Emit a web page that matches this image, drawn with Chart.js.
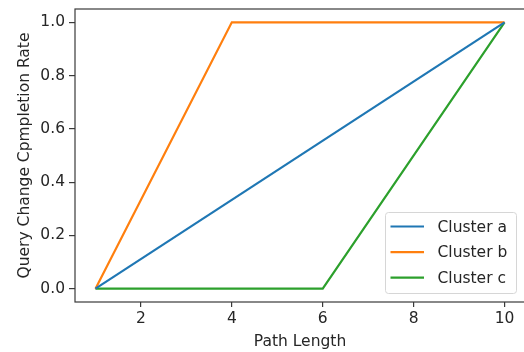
<!DOCTYPE html>
<html>
<head>
<meta charset="utf-8">
<script src="https://cdn.jsdelivr.net/npm/chart.js@4"></script>
<style>
  html, body { margin: 0; padding: 0; background: #fff; overflow: hidden; }
  #wrap { width: 530px; height: 352px; }
</style>
</head>
<body>
<div id="wrap"><canvas id="chart" width="530" height="352"></canvas></div>
<script>
// series (vertices only, lines have no markers)
const clusterNames = ['Cluster a', 'Cluster b', 'Cluster c'];
const clusterAX = [1, 10];
const clusterAY = [0, 1];
const clusterBX = [1, 4, 10];
const clusterBY = [0, 1, 1];
const clusterCX = [1, 6, 10];
const clusterCY = [0, 0, 1];
const xTicks = [2, 4, 6, 8, 10];
const yTicks = [0, 0.2, 0.4, 0.6, 0.8, 1.0];

const colors = ['#1f77b4', '#ff7f0e', '#2ca02c'];
const FONT = 'DejaVu Sans';
const TEXT = '#262626';
const SPINE = '#3a3a3a';

const pts = (xs, ys) => xs.map((x, i) => ({ x, y: ys[i] }));

// frame on all four sides, like matplotlib spines
const framePlugin = {
  id: 'frame',
  afterDatasetsDraw(chart) {
    const { ctx, chartArea: a } = chart;
    ctx.save();
    ctx.strokeStyle = SPINE;
    ctx.lineWidth = 1.2;
    ctx.strokeRect(a.left, a.top, a.right - a.left, a.bottom - a.top);
    ctx.restore();
  }
};

// legend box in the lower right corner of the plot
const legendPlugin = {
  id: 'boxLegend',
  afterDraw(chart) {
    const { ctx, chartArea: a } = chart;
    const w = 131, h = 81;
    const x0 = a.right - 8.5 - w, y0 = a.bottom - 8.5 - h;
    ctx.save();
    ctx.beginPath();
    ctx.roundRect(x0, y0, w, h, 3);
    ctx.fillStyle = 'rgba(255,255,255,0.8)';
    ctx.fill();
    ctx.strokeStyle = '#d6d6d6';
    ctx.lineWidth = 1;
    ctx.stroke();
    ctx.font = '15.5px "' + FONT + '"';
    ctx.textBaseline = 'middle';
    ctx.fillStyle = TEXT;
    chart.data.datasets.forEach((ds, i) => {
      const y = y0 + 14 + i * 25.6;
      ctx.strokeStyle = ds.borderColor;
      ctx.lineWidth = 2.2;
      ctx.beginPath();
      ctx.moveTo(x0 + 5, y);
      ctx.lineTo(x0 + 38.5, y);
      ctx.stroke();
      ctx.fillText(ds.label, x0 + 52, y + 1);
    });
    ctx.restore();
  }
};

const series = [pts(clusterAX, clusterAY), pts(clusterBX, clusterBY), pts(clusterCX, clusterCY)];

new Chart(document.getElementById('chart'), {
  type: 'line',
  data: {
    datasets: series.map((d, i) => ({
      label: clusterNames[i],
      data: d,
      borderColor: colors[i],
      backgroundColor: colors[i],
      borderWidth: 2.2,
      pointRadius: 0,
      tension: 0,
      fill: false
    }))
  },
  options: {
    responsive: false,
    animation: false,
    layout: { padding: { top: 9, right: 5, left: 0, bottom: 0 } },
    plugins: { legend: { display: false }, tooltip: { enabled: false } },
    scales: {
      x: {
        type: 'linear',
        min: 0.55,
        max: 10.45,
        afterBuildTicks: s => { s.ticks = xTicks.map(v => ({ value: v })); },
        afterFit: s => { s.height = 50; s.paddingLeft = 0; s.paddingRight = 0; },
        grid: { drawOnChartArea: false, drawTicks: true, tickLength: 5, color: SPINE, lineWidth: 1.2 },
        border: { display: false },
        ticks: { color: TEXT, font: { family: FONT, size: 15.5 }, padding: 3, maxRotation: 0, callback: v => String(v) },
        title: { display: true, text: 'Path Length', color: TEXT, font: { family: FONT, size: 15.5 }, padding: { top: 0, bottom: 1 } }
      },
      y: {
        type: 'linear',
        min: -0.05,
        max: 1.05,
        afterBuildTicks: s => { s.ticks = yTicks.map(v => ({ value: v })); },
        afterFit: s => { s.width = 75; s.paddingTop = 0; s.paddingBottom = 0; },
        grid: { drawOnChartArea: false, drawTicks: true, tickLength: 6, color: SPINE, lineWidth: 1.2 },
        border: { display: false },
        ticks: { color: TEXT, font: { family: FONT, size: 15.5 }, padding: 4, callback: v => v.toFixed(1) },
        title: { display: true, text: 'Query Change Cpmpletion Rate', color: TEXT, font: { family: FONT, size: 15.5 }, padding: { top: 16, bottom: 0 } }
      }
    }
  },
  plugins: [framePlugin, legendPlugin]
});
</script>
</body>
</html>
